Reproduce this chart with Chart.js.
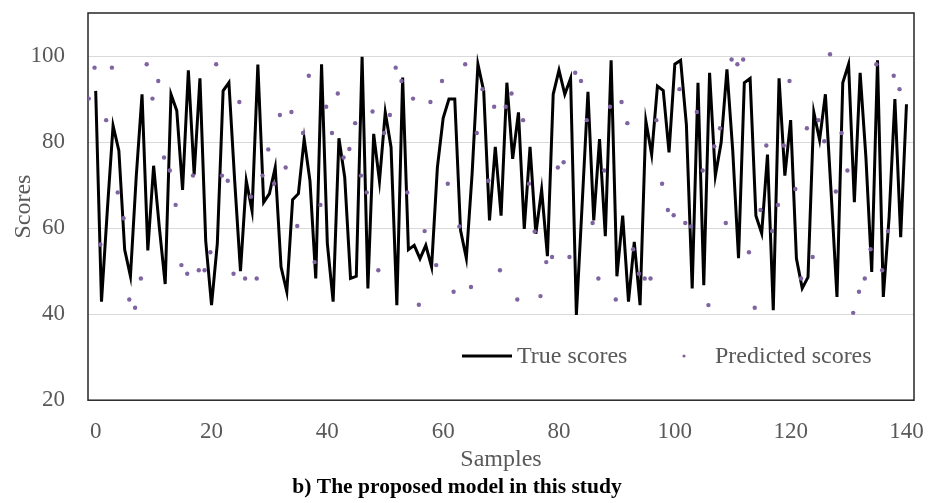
<!DOCTYPE html>
<html>
<head>
<meta charset="utf-8">
<script src="https://cdn.jsdelivr.net/npm/chart.js@4.4.1/dist/chart.umd.min.js"></script>
<style>
  body { margin: 0; background: #fff; }
  #wrap { width: 940px; height: 503px; position: relative; }
</style>
</head>
<body>
<div id="wrap"><canvas id="grafico"></canvas></div>
<script>
// valores (amostras 0..140)
const trueScores = [91.9, 42.9, 64, 83.8, 78, 55, 48.8, 72, 91.1, 54.8,
  74.5, 60, 47, 91.1, 87.3, 68.9, 96.7, 72.4, 94.8, 57,
  42.1, 56.4, 91.9, 93.8, 71, 50, 71, 64, 98, 66,
  68, 74.1, 51, 45.2, 66.6, 68, 80.7, 71, 48.3, 98.1,
  56.4, 42.9, 80.9, 71.8, 48.3, 48.8, 99.8, 46, 81.9, 70.9,
  86.9, 78.8, 42.1, 95, 55, 56, 52.9, 56, 51, 74.1,
  85.6, 90, 90, 59.5, 53, 72.7, 98.1, 91.9, 61.8, 78.9,
  62.9, 93.8, 76.1, 86.9, 59.8, 78.9, 58.7, 68.9, 53.5, 91.1,
  96.7, 91.1, 94.8, 39.8, 65.6, 91.7, 61.8, 80.7, 58.1, 99,
  48.8, 62.9, 42.9, 56.8, 42.1, 84.9, 77.1, 93, 92, 77.6,
  98.1, 99, 84, 46, 93.8, 46.7, 96.1, 72.2, 79.9, 96.9,
  78, 53, 93.8, 94.8, 62.9, 58.8, 77.1, 40.9, 94.8, 72.2,
  85.1, 52.9, 46, 48.6, 86.9, 80.5, 91.1, 68, 44, 93.8,
  98.1, 66, 96.1, 76.4, 49.8, 99, 44, 62.5, 90, 57.9,
  88.8]

// previstos: comecam um pouco antes da amostra 0 (deslocados no original)
const predictedStart = -1.2
const predictedScores = [90.1, 97.3, 56.2, 85.1, 97.3, 68.3, 62.3, 43.4, 41.5, 48.3,
  98.1, 90.1, 94.2, 76.4, 73.4, 65.4, 51.4, 49.4, 72.2, 50.2,
  50.2, 54.4, 98.1, 72.2, 71.0, 49.4, 89.3, 48.3, 67.3, 48.3,
  72.2, 78.3, 70.3, 86.3, 74.1, 87.0, 60.5, 82.1, 95.4, 52.1,
  65.4, 88.2, 82.1, 91.3, 76.4, 78.4, 84.4, 72.2, 68.3, 87.1,
  50.2, 82.1, 86.3, 97.3, 94.2, 68.3, 90.1, 42.2, 59.3, 89.3,
  51.4, 94.2, 70.3, 45.2, 60.4, 98.1, 46.3, 82.1, 92.3, 71.0,
  88.2, 50.2, 88.2, 91.3, 43.4, 85.1, 70.3, 59.2, 44.2, 52.1,
  53.3, 74.1, 75.3, 53.3, 96.1, 94.2, 85.1, 61.2, 48.3, 73.4,
  88.2, 43.4, 89.3, 84.4, 55.1, 49.4, 48.3, 48.3, 85.1, 70.3,
  64.2, 63.0, 92.3, 61.2, 60.4, 87.0, 73.4, 42.1, 79.0, 83.2,
  61.2, 99.2, 98.1, 99.2, 54.4, 41.5, 64.2, 79.2, 59.3, 65.4,
  79.2, 94.2, 69.1, 48.3, 83.2, 53.3, 85.1, 80.2, 100.4, 68.5,
  82.1, 73.4, 40.3, 45.2, 48.3, 55.1, 98.1, 50.2, 59.3, 95.4,
  92.3]

const xTicks = [0, 20, 40, 60, 80, 100, 120, 140]
const yTicks = [20, 40, 60, 80, 100]

const fonte = 'Liberation Serif, Times New Roman, serif'
const cinza = '#595959'

var pontosReais = trueScores.map((v, i) => ({ x: i, y: v }))
var pontosPrevistos = predictedScores.map((v, i) => ({ x: predictedStart + i, y: v }))

// moldura da area do grafico
const moldura = {
	id: 'moldura',
	beforeDatasetsDraw(chart) {
		const a = chart.chartArea
		const ctx = chart.ctx
		ctx.save()
		ctx.strokeStyle = '#262626'
		ctx.lineWidth = 1.5
		ctx.strokeRect(a.left, a.top, a.right - a.left, a.bottom - a.top)
		ctx.restore()
	}
}

// legenda dentro da area, canto inferior direito
const legendaInterna = {
	id: 'legendaInterna',
	afterDraw(chart) {
		const ctx = chart.ctx
		const ds = chart.data.datasets
		const y = 356
		ctx.save()
		ctx.font = '24px ' + fonte
		ctx.textBaseline = 'middle'
		ctx.fillStyle = cinza

		ctx.strokeStyle = ds[0].borderColor
		ctx.lineWidth = 3
		ctx.beginPath()
		ctx.moveTo(462, y)
		ctx.lineTo(512, y)
		ctx.stroke()
		ctx.fillText(ds[0].label, 517, y + 1)

		ctx.fillStyle = ds[1].backgroundColor
		ctx.beginPath()
		ctx.arc(684, y, 1.6, 0, Math.PI * 2)
		ctx.fill()
		ctx.fillStyle = cinza
		ctx.fillText(ds[1].label, 715, y + 1)
		ctx.restore()
	}
}

var grafico = document.getElementById('grafico').getContext('2d')
var dados = {
	type: 'scatter',
	data: {
		datasets: [{
				type: 'line',
				label: 'True scores',
				data: pontosReais,
				borderColor: '#000000',
				backgroundColor: '#000000',
				borderWidth: 3,
				borderJoinStyle: 'miter',
				pointRadius: 0,
				tension: 0,
				order: 2
			},
			{
				label: 'Predicted scores',
				data: pontosPrevistos,
				backgroundColor: '#8064A2',
				borderColor: '#8064A2',
				pointRadius: 2.2,
				borderWidth: 0,
				order: 1
		}]
	},
	options: {
		responsive: true,
		maintainAspectRatio: false,
		animation: false,
		layout: { padding: { top: 13, right: 26, left: 0, bottom: 0 } },
		plugins: {
			legend: { display: false },
			tooltip: { enabled: false },
			title: {
				display: true,
				position: 'bottom',
				text: 'b) The proposed model in this study',
				color: '#000000',
				font: { family: fonte, size: 21.5, weight: 'bold' },
				padding: { top: 0, bottom: 3 }
			}
		},
		scales: {
			x: {
				type: 'linear',
				min: -1.33,
				max: 141.3,
				afterBuildTicks: (scale) => { scale.ticks = xTicks.map(v => ({ value: v })) },
				afterFit: (scale) => {
					scale.height = 74
					scale.paddingLeft = 0
					scale.paddingRight = 0
				},
				grid: { display: false, drawTicks: false },
				border: { display: false },
				ticks: { color: cinza, padding: 18, maxRotation: 0, font: { family: fonte, size: 23 } },
				title: {
					display: true,
					text: 'Samples',
					color: cinza,
					padding: { top: 0, bottom: 0 },
					font: { family: fonte, size: 24 }
				}
			},
			y: {
				min: 20,
				max: 110,
				afterBuildTicks: (scale) => { scale.ticks = yTicks.map(v => ({ value: v })) },
				afterFit: (scale) => {
					scale.width = 88
					scale.paddingTop = 0
					scale.paddingBottom = 0
				},
				grid: {
					drawTicks: false,
					color: (c) => c.tick && c.tick.value === 20 ? 'rgba(0,0,0,0)' : '#d9d9d9',
					lineWidth: 1
				},
				border: { display: false },
				ticks: { color: cinza, padding: 23, font: { family: fonte, size: 23 } },
				title: {
					display: true,
					text: 'Scores',
					color: cinza,
					padding: { top: 9, bottom: 0 },
					font: { family: fonte, size: 24 }
				}
			}
		}
	},
	plugins: [moldura, legendaInterna]
}
new Chart(grafico, dados)
</script>
</body>
</html>
